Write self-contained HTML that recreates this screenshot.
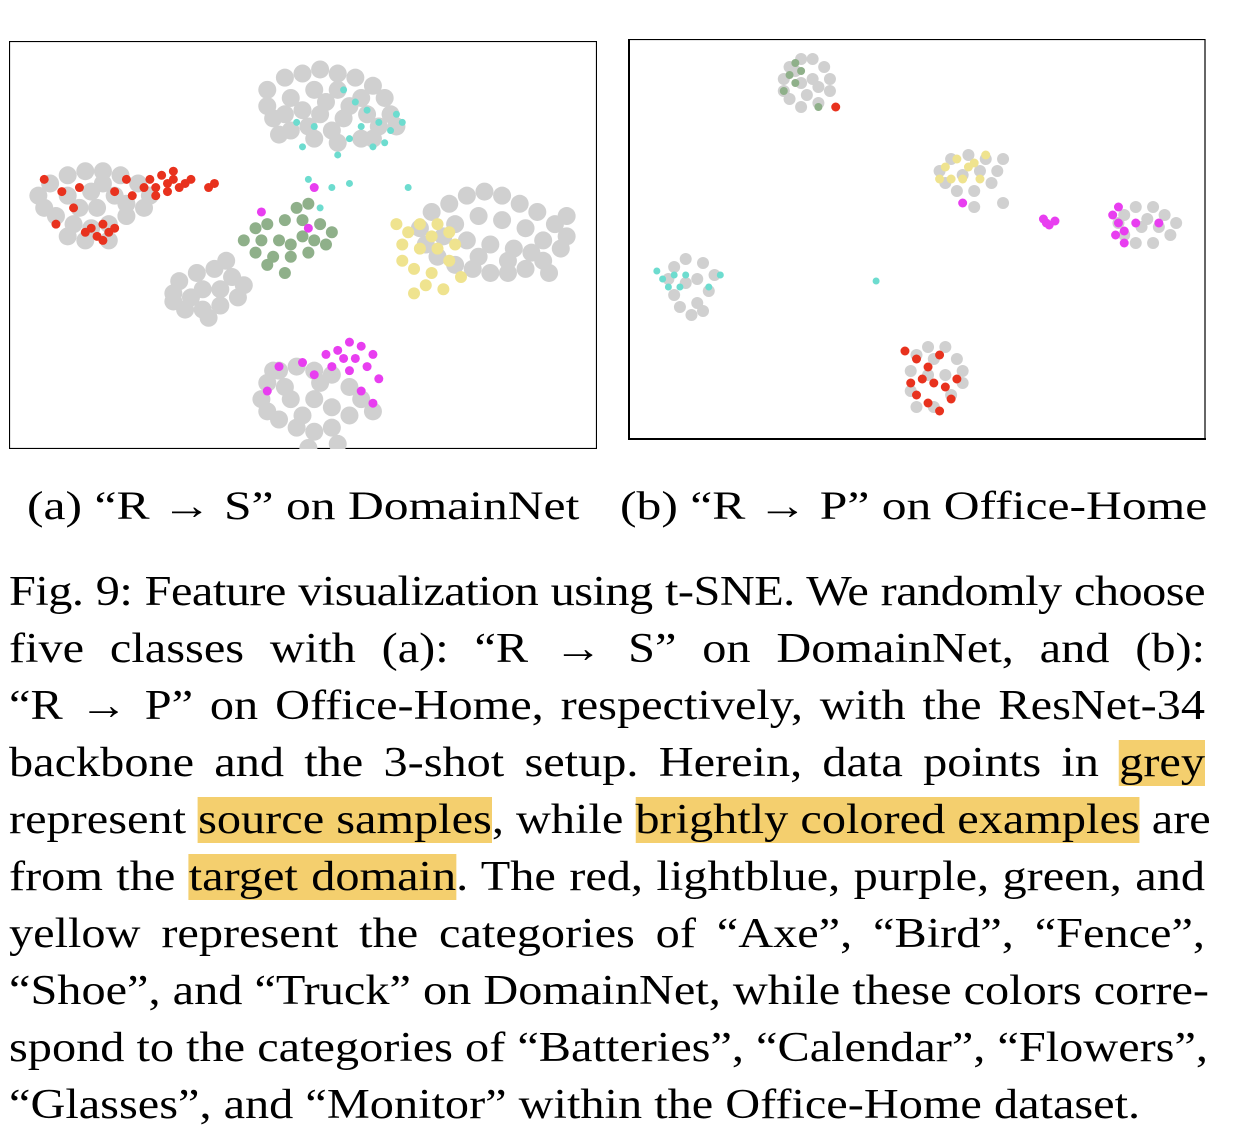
<!DOCTYPE html>
<html><head><meta charset="utf-8">
<style>
html,body{margin:0;padding:0;background:#fff;}
body{width:1254px;height:1136px;position:relative;overflow:hidden;font-family:"Liberation Serif",serif;color:#000;}
svg.panel{position:absolute;}
.cap{position:absolute;font-size:40px;white-space:nowrap;top:482px;transform:scaleX(1.24);transform-origin:0 0;}
#text{position:absolute;left:9px;top:564px;width:1040px;font-size:42px;line-height:57px;transform:scaleX(1.15);transform-origin:0 0;}
.ln{text-align:justify;text-align-last:justify;white-space:nowrap;height:57px;}
.ln.first{letter-spacing:-0.45px;}
.ln.last{text-align-last:left;}
.hl{background:#f4cf6e;}
</style></head><body>
<svg class="panel" id="pa" style="left:9px;top:41px" width="588" height="408">
<rect x="0.5" y="0.5" width="587" height="407" fill="none" stroke="#000" stroke-width="1.2"/>
</svg>
<svg class="panel" id="pb" style="left:628px;top:39px" width="578" height="402">
<rect x="1" y="0.5" width="576" height="399.5" fill="none" stroke="#000" stroke-width="1.2"/>
<line x1="1" y1="0" x2="1" y2="401" stroke="#000" stroke-width="2"/>
<line x1="0" y1="400" x2="578" y2="400" stroke="#000" stroke-width="2"/>
</svg>
<div class="cap" style="left:27px">(a) “R → S” on DomainNet</div>
<div class="cap" style="left:620px">(b) “R → P” on Office-Home</div>
<div id="text">
<div class="ln first">Fig. 9: Feature visualization using t-SNE. We randomly choose</div>
<div class="ln">five classes with (a): “R → S” on DomainNet, and (b):</div>
<div class="ln">“R → P” on Office-Home, respectively, with the ResNet-34</div>
<div class="ln">backbone and the 3-shot setup. Herein, data points in <span class="hl">grey</span></div>
<div class="ln">represent <span class="hl">source samples</span>, while <span class="hl">brightly colored examples</span> are</div>
<div class="ln">from the <span class="hl">target domain</span>. The red, lightblue, purple, green, and</div>
<div class="ln">yellow represent the categories of “Axe”, “Bird”, “Fence”,</div>
<div class="ln">“Shoe”, and “Truck” on DomainNet, while these colors corre-</div>
<div class="ln">spond to the categories of “Batteries”, “Calendar”, “Flowers”,</div>
<div class="ln last">“Glasses”, and “Monitor” within the Office-Home dataset.</div>
</div>
<script>
// Panel A data (t-SNE coordinates, 0-100 units)
const aGrey = [[44,12],[47,9],[50,8],[53,7],[56,8],[59,9],[62,11],[64,14],[65,18],[63,21],[60,24],[56,25],[52,24],[48,22],[45,19],[44,16],[48,14],[52,12],[56,12],[60,14],[61,18],[57,19],[53,18],[50,17],[47,18],[54,15],[58,16],[51,21],[55,22],[62,24],[66,21],[46,23],
[5,38],[7,35],[10,33],[13,32],[16,32],[19,33],[22,35],[24,38],[23,41],[20,43],[17,45],[14,46],[11,45],[8,43],[6,41],[10,38],[14,37],[18,38],[20,40],[15,41],[12,41],[16,35],[13,49],[17,49],[10,48],
[28,62],[29,59],[32,57],[35,56],[38,58],[40,60],[39,63],[36,65],[33,66],[30,66],[28,64],[33,61],[36,61],[31,63],[34,68],[37,54],
[70,46],[72,42],[75,40],[78,38],[81,37],[84,38],[87,40],[90,42],[93,45],[95,48],[94,51],[91,54],[88,56],[85,57],[82,57],[79,56],[76,55],[73,53],[71,50],[76,45],[80,43],[84,44],[88,46],[91,49],[86,51],[82,50],[78,49],[74,48],[85,54],[89,52],[80,53],[92,57],[95,43],
[43,88],[44,84],[46,81],[49,80],[52,81],[55,82],[58,85],[60,88],[58,92],[55,95],[52,96],[49,95],[46,93],[44,91],[48,88],[52,88],[55,90],[50,92],[53,84],[47,85],[56,99],[51,100],[45,81],[62,91]];
const aRed = [[24,34],[26,33],[28,34],[29,36],[27,37],[25,36],[27,35],[30,35],[23,36],[28,32],[31,34],[25,38],[14,46],[16,45],[17,47],[15,48],[13,47],[18,46],[16,49],[6,34],[9,37],[12,36],[18,37],[21,38],[20,34],[11,41],[8,45],[34,36],[35,35]];
const aCyan = [[57,12],[59,15],[61,17],[63,20],[65,22],[66,18],[60,21],[58,24],[62,26],[64,25],[52,21],[50,26],[49,20],[56,28],[67,20],[51,34],[55,36],[58,35],[53,41],[68,36]];
const aMagenta = [[56,76],[58,74],[60,75],[62,77],[61,80],[58,81],[55,80],[54,77],[59,78],[57,78],[52,82],[50,79],[63,83],[60,86],[62,89],[44,86],[46,80],[52,36],[51,46],[43,42]];
const aGreen = [[40,49],[42,46],[44,45],[47,44],[50,44],[53,45],[55,47],[54,50],[51,52],[48,53],[45,53],[42,52],[46,49],[50,48],[48,50],[43,49],[52,49],[44,55],[47,57],[49,41],[51,40]];
const aYellow = [[67,50],[68,47],[70,45],[73,45],[75,47],[76,50],[75,54],[72,57],[69,56],[67,54],[70,51],[73,51],[72,48],[71,60],[74,61],[69,62],[77,58],[66,45]];
// Panel B data
const bGrey = [[27,10],[28,7],[30,5],[32,5],[34,7],[35,10],[35,13],[33,16],[30,17],[28,15],[27,13],[30,11],[32,10],[31,14],[29,8],[33,12],
[54,33],[56,30],[59,29],[62,30],[64,33],[63,36],[60,38],[57,38],[55,36],[58,34],[61,33],[65,30],[60,42],[65,41],
[85,46],[86,44],[88,42],[91,42],[93,44],[95,46],[94,49],[91,51],[88,51],[86,49],[89,47],[92,47],[90,45],
[7,60],[8,57],[10,55],[13,56],[15,59],[14,63],[12,66],[11,69],[9,67],[8,64],[10,61],[12,60],[13,68],
[49,83],[50,79],[52,77],[55,77],[57,80],[58,83],[58,86],[56,89],[53,92],[50,92],[49,88],[52,84],[55,84],[53,80]];
const bRed = [[36,17],[48,78],[50,80],[52,82],[54,79],[51,85],[53,86],[55,87],[50,89],[52,91],[56,90],[54,93],[49,86],[57,85]];
const bCyan = [[5,58],[6,60],[8,59],[10,59],[7,62],[9,62],[14,62],[16,59],[43,60.5]];
const bMagenta = [[58,41],[72,45],[73,46.5],[72.5,46],[74,45.5],[84,44],[85,46],[86,48],[84.5,49],[86,51],[85,42],[88,46],[92,46]];
const bGreen = [[28,9],[29,11],[30,8],[27,13],[29,6],[33,17]];
const bYellow = [[55,32],[57,30],[59,32],[58,35],[56,35],[60,31],[62,29],[61,35],[54,35]];

const NS = 'http://www.w3.org/2000/svg';
function draw(svgId, w, h, pts, color, r, name){
  const svg = document.getElementById(svgId);
  const sx = v => v / 100 * w;
  const sy = v => v / 100 * h;
  pts.forEach(p => {
    const c = document.createElementNS(NS, 'circle');
    c.setAttribute('cx', sx(p[0]));
    c.setAttribute('cy', sy(p[1]));
    c.setAttribute('r', r);
    c.setAttribute('fill', color);
    
    
    svg.appendChild(c);
  });
}
draw('pa', 587, 407, aGrey, '#d0d0d0', 9, 'source-point');
draw('pa', 587, 407, aGreen, '#8fb08a', 6, 'shoe-target-point');
draw('pa', 587, 407, aYellow, '#efe38f', 6, 'truck-target-point');
draw('pa', 587, 407, aRed, '#e8321e', 4.5, 'axe-target-point');
draw('pa', 587, 407, aCyan, '#6ddccf', 3.5, 'bird-target-point');
draw('pa', 587, 407, aMagenta, '#e83ef0', 4.5, 'fence-target-point');
draw('pb', 577, 400, bGrey, '#d0d0d0', 6, 'source-point');
draw('pb', 577, 400, bGreen, '#8fb08a', 4, 'flowers-target-point');
draw('pb', 577, 400, bYellow, '#efe38f', 4.5, 'monitor-target-point');
draw('pb', 577, 400, bRed, '#e8321e', 4.5, 'batteries-target-point');
draw('pb', 577, 400, bCyan, '#6ddccf', 3.5, 'calendar-target-point');
draw('pb', 577, 400, bMagenta, '#e83ef0', 4.5, 'glasses-target-point');
</script>
</body></html>
